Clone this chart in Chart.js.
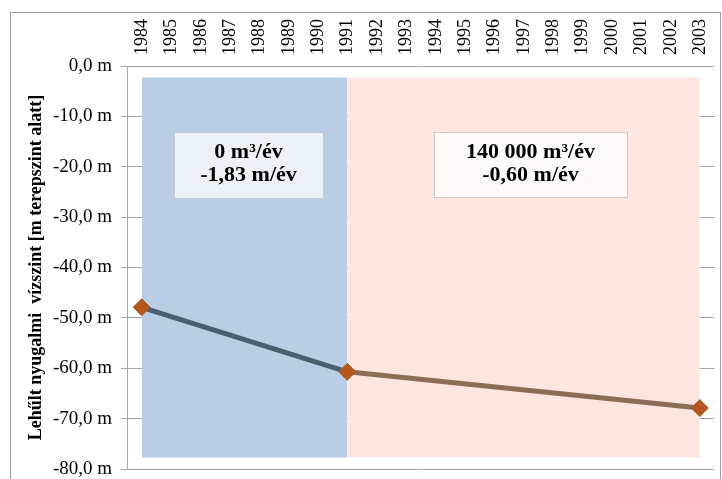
<!DOCTYPE html>
<html>
<head>
<meta charset="utf-8">
<script src="https://cdn.jsdelivr.net/npm/chart.js@4/dist/chart.umd.min.js"></script>
<style>
    html, body { margin: 0; padding: 0; background: #fff; overflow: hidden; }
    #wrap { width: 724px; height: 479px; position: relative; }
</style>
</head>
<body>
<div id="wrap"><canvas id="levelChart"></canvas></div>
<script>
// Years on the top axis
const years = ['1984', '1985', '1986', '1987', '1988', '1989', '1990', '1991', '1992', '1993',
    '1994', '1995', '1996', '1997', '1998', '1999', '2000', '2001', '2002', '2003'];

// Water level (m below surface) at the measured years
const levelPhase1 = [-47.9, null, null, null, null, null, null, -60.7, null, null,
    null, null, null, null, null, null, null, null, null, null];
const levelPhase2 = [null, null, null, null, null, null, null, -60.7, null, null,
    null, null, null, null, null, null, null, null, null, -67.9];

// Shaded periods (top / bottom of the band)
const band1Top = [-2.3, -2.3, -2.3, -2.3, -2.3, -2.3, -2.3, -2.3, null, null,
    null, null, null, null, null, null, null, null, null, null];
const band1Bottom = [-77.7, -77.7, -77.7, -77.7, -77.7, -77.7, -77.7, -77.7, null, null,
    null, null, null, null, null, null, null, null, null, null];
const band2Top = [null, null, null, null, null, null, null, -2.3, -2.3, -2.3,
    -2.3, -2.3, -2.3, -2.3, -2.3, -2.3, -2.3, -2.3, -2.3, -2.3];
const band2Bottom = [null, null, null, null, null, null, null, -77.7, -77.7, -77.7,
    -77.7, -77.7, -77.7, -77.7, -77.7, -77.7, -77.7, -77.7, -77.7, -77.7];

// Text boxes
const boxLines1 = ['0 m³/év', '-1,83 m/év'];
const boxLines2 = ['140 000 m³/év', '-0,60 m/év'];

const serif = '"Liberation Serif", "Times New Roman", serif';

// Outer frame + text boxes
const decorPlugin = {
    id: 'decor',
    beforeDraw(chart) {
        const ctx = chart.ctx;
        ctx.save();
        ctx.fillStyle = '#fff';
        ctx.fillRect(0, 0, chart.width, chart.height);
        ctx.strokeStyle = '#9a9a9a';
        ctx.lineWidth = 1;
        ctx.strokeRect(10.5, 12.5, 710, 480);
        ctx.restore();
    },
    afterDraw(chart) {
        const ctx = chart.ctx;
        const boxes = [
            { x: 174, y: 132, w: 149, h: 66, fill: 'rgba(255,255,255,0.72)', lines: boxLines1 },
            { x: 434, y: 132, w: 193, h: 65, fill: 'rgba(255,255,255,0.8)', lines: boxLines2 }
        ];
        ctx.save();
        boxes.forEach(b => {
            ctx.fillStyle = b.fill;
            ctx.fillRect(b.x, b.y, b.w, b.h);
            ctx.strokeStyle = '#c8c8c8';
            ctx.lineWidth = 1;
            ctx.strokeRect(b.x + 0.5, b.y + 0.5, b.w, b.h);
            ctx.fillStyle = '#000';
            ctx.font = 'bold 22px ' + serif;
            ctx.textAlign = 'center';
            ctx.textBaseline = 'middle';
            const cx = b.x + b.w / 2;
            ctx.fillText(b.lines[0], cx, b.y + b.h / 2 - 12.5);
            ctx.fillText(b.lines[1], cx, b.y + b.h / 2 + 10.5);
        });
        ctx.restore();
    }
};

function bandDataset(data, color, fill) {
    return {
        type: 'line',
        data: data,
        borderWidth: 0,
        borderColor: 'rgba(0,0,0,0)',
        backgroundColor: color,
        pointRadius: 0,
        fill: fill,
        order: 10
    };
}

new Chart(document.getElementById('levelChart'), {
    type: 'line',
    data: {
        labels: years,
        datasets: [
            bandDataset(band1Top, '#b9cde5', '+1'),
            bandDataset(band1Bottom, '#b9cde5', false),
            bandDataset(band2Top, '#fde5e0', '+1'),
            bandDataset(band2Bottom, '#fde5e0', false),
            {
                label: '1984-1991',
                data: levelPhase1,
                spanGaps: true,
                borderColor: '#4b5e6f',
                borderWidth: 5,
                pointStyle: 'rectRot',
                pointRadius: [8.5, 0, 0, 0, 0, 0, 0, 0],
                pointBackgroundColor: '#b4561e',
                pointBorderColor: '#a9571f',
                pointBorderWidth: 1,
                order: 1
            },
            {
                label: '1991-2003',
                data: levelPhase2,
                spanGaps: true,
                borderColor: '#8b6d58',
                borderWidth: 5,
                pointStyle: 'rectRot',
                pointRadius: 8.5,
                pointBackgroundColor: '#b4561e',
                pointBorderColor: '#a9571f',
                pointBorderWidth: 1,
                order: 0
            }
        ]
    },
    options: {
        responsive: true,
        maintainAspectRatio: false,
        animation: false,
        layout: { padding: { left: 0, right: 0, top: 0, bottom: 10 } },
        plugins: {
            legend: { display: false },
            tooltip: { enabled: false }
        },
        scales: {
            x: {
                position: 'top',
                offset: true,
                grid: { display: false, drawTicks: false },
                border: { display: false },
                ticks: {
                    color: '#000',
                    font: { family: serif, size: 18 },
                    minRotation: 90,
                    maxRotation: 90,
                    autoSkip: false,
                    labelOffset: 22,
                    padding: 11
                },
                afterFit(scale) {
                    scale.height = 66;
                    scale.paddingLeft = 0;
                    scale.paddingRight = 0;
                }
            },
            y: {
                min: -80,
                max: 0,
                z: 1,
                grid: { color: '#a6a6a6', tickLength: 6, tickColor: '#a6a6a6' },
                border: { display: true, color: '#a6a6a6' },
                ticks: {
                    stepSize: 10,
                    color: '#000',
                    font: { family: serif, size: 19 },
                    padding: 9,
                    callback: v => v.toFixed(1).replace('.', ',') + ' m'
                },
                title: {
                    display: true,
                    text: 'Lehűlt nyugalmi  vízszint [m terepszint alatt]',
                    color: '#000',
                    font: { family: serif, size: 18, weight: 'bold' },
                    padding: { top: 26, bottom: 0 }
                },
                afterFit(scale) {
                    scale.width = 127;
                    scale.paddingTop = 0;
                    scale.paddingBottom = 0;
                }
            }
        }
    },
    plugins: [decorPlugin]
});
</script>
</body>
</html>
